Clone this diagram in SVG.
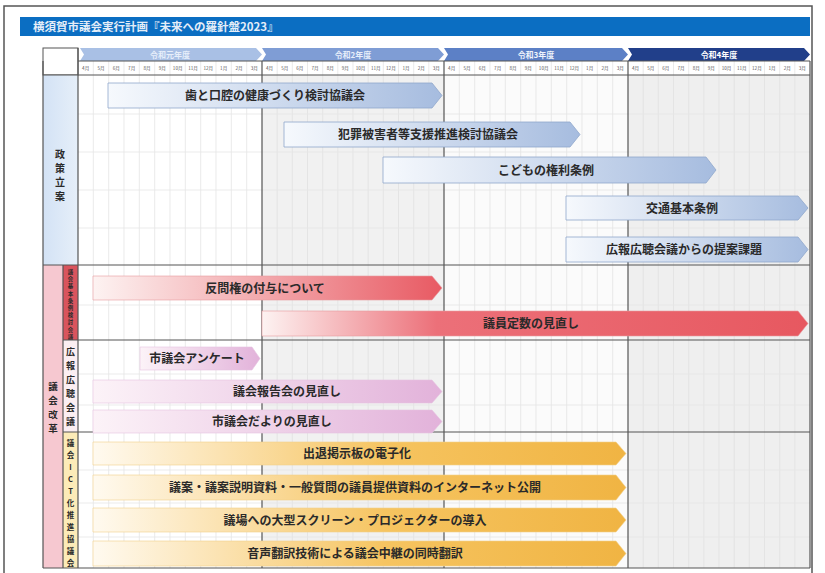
<svg xmlns="http://www.w3.org/2000/svg" width="825" height="573" viewBox="0 0 825 573">
<defs>
<style>
text{font-family:"Noto Sans CJK JP","Noto Sans",sans-serif}
.lbl{font-size:12px;font-weight:700;fill:#2a2a2a;text-anchor:middle}
.mon{font-size:4.6px;fill:#555;text-anchor:middle}
.yr{font-size:8px;font-weight:700;text-anchor:middle}
.vt{font-weight:700;fill:#2a2a2a;text-anchor:middle}
.thick{stroke:#555;stroke-width:1.2;fill:none}
.thin{stroke:#dcdcdc;stroke-width:0.6;fill:none}
.row{stroke:#e6e6e6;stroke-width:0.8;fill:none}
.blue{fill:url(#gBlue);stroke:#8fa7cc;stroke-width:0.8}
.red{stroke:#e79aa0;stroke-width:0.6}
.pink{fill:url(#gPink);stroke:#e6c4e0;stroke-width:0.6}
.yel{fill:url(#gYel);stroke:#f2d08a;stroke-width:0.6}
</style>
<linearGradient id="gBlue" x1="0" y1="0" x2="1" y2="0"><stop offset="0" stop-color="#f6f9fd"/><stop offset="1" stop-color="#a6bcdf"/></linearGradient>
<linearGradient id="gRed1" x1="0" y1="0" x2="1" y2="0"><stop offset="0" stop-color="#fdf3f2"/><stop offset="1" stop-color="#e85a63"/></linearGradient>
<linearGradient id="gRed2" x1="0" y1="0" x2="1" y2="0"><stop offset="0" stop-color="#fdf3f2"/><stop offset="0.32" stop-color="#ec7079"/><stop offset="1" stop-color="#e75860"/></linearGradient>
<linearGradient id="gPink" x1="0" y1="0" x2="1" y2="0"><stop offset="0" stop-color="#fcf3f8"/><stop offset="1" stop-color="#e2b2da"/></linearGradient>
<linearGradient id="gYel" x1="0" y1="0" x2="1" y2="0"><stop offset="0" stop-color="#fffaf0"/><stop offset="0.55" stop-color="#f6c460"/><stop offset="1" stop-color="#f0b443"/></linearGradient>
<linearGradient id="gSec1" x1="0" y1="0" x2="1" y2="0"><stop offset="0" stop-color="#d3e2f5"/><stop offset="1" stop-color="#e6eff9"/></linearGradient>
</defs>

<rect x="0" y="0" width="825" height="573" fill="#ffffff"/>
<rect x="4" y="6" width="808" height="575" fill="none" stroke="#555" stroke-width="1.5"/>

<g id="title">
<rect x="20" y="17" width="790" height="19" fill="#0b6ec2"/>
<text x="33" y="31" font-size="11.5" font-weight="700" fill="#e4edf8">横須賀市議会実行計画『未来への羅針盤2023』</text>
</g>

<!-- backgrounds -->
<rect x="78" y="75" width="184" height="493" fill="#ffffff"/>
<rect x="262" y="75" width="182" height="493" fill="#f1f1f1"/>
<rect x="444" y="75" width="184" height="493" fill="#fbfbfb"/>
<rect x="628" y="75" width="182" height="493" fill="#efefef"/>
<rect x="78" y="61" width="732" height="14" fill="#ffffff"/>

<g id="grid">
<path class="thin" d="M93.3 61V568M108.7 61V568M124 61V568M139.3 61V568M154.7 61V568M170 61V568M185.3 61V568M200.7 61V568M216 61V568M231.3 61V568M246.7 61V568M277.2 61V568M292.3 61V568M307.5 61V568M322.7 61V568M337.8 61V568M353 61V568M368.2 61V568M383.3 61V568M398.5 61V568M413.7 61V568M428.8 61V568M459.3 61V568M474.7 61V568M490 61V568M505.3 61V568M520.7 61V568M536 61V568M551.3 61V568M566.7 61V568M582 61V568M597.3 61V568M612.7 61V568M643.2 61V568M658.3 61V568M673.5 61V568M688.7 61V568M703.8 61V568M719 61V568M734.2 61V568M749.3 61V568M764.5 61V568M779.7 61V568M794.8 61V568"/>
<path class="row" d="M78 114H810M78 152H810M78 190H810M78 228H810M78 305H810M78 374H810M78 405H810M78 470H810M78 503H810M78 537H810"/>
</g>

<g id="header-corner"><rect x="43" y="48" width="35" height="27" fill="#fff" stroke="#555" stroke-width="1"/></g>

<g id="years">
<path d="M80 48H256L262 54.5L256 61H80L84 54.5Z" fill="#a9c0e5"/>
<text class="yr" x="170" y="57.5" fill="#e6eefa">令和元年度</text>
<path d="M262 48H438L444 54.5L438 61H262L266 54.5Z" fill="#7f9dd5"/>
<text class="yr" x="353" y="57.5" fill="#e6eefa">令和2年度</text>
<path d="M444 48H622L628 54.5L622 61H444L448 54.5Z" fill="#5c80c6"/>
<text class="yr" x="536" y="57.5" fill="#eef3fb">令和3年度</text>
<path d="M628 48H804L810 54.5L804 61H628L632 54.5Z" fill="#213f8a"/>
<text class="yr" x="719" y="57.5" fill="#ffffff">令和4年度</text>
</g>

<g id="months">
<text class="mon" y="70"><tspan x="85.7">4月</tspan><tspan x="101">5月</tspan><tspan x="116.3">6月</tspan><tspan x="131.7">7月</tspan><tspan x="147">8月</tspan><tspan x="162.3">9月</tspan><tspan x="177.7">10月</tspan><tspan x="193">11月</tspan><tspan x="208.3">12月</tspan><tspan x="223.7">1月</tspan><tspan x="239">2月</tspan><tspan x="254.3">3月</tspan><tspan x="269.6">4月</tspan><tspan x="284.8">5月</tspan><tspan x="299.9">6月</tspan><tspan x="315.1">7月</tspan><tspan x="330.3">8月</tspan><tspan x="345.4">9月</tspan><tspan x="360.6">10月</tspan><tspan x="375.8">11月</tspan><tspan x="390.9">12月</tspan><tspan x="406.1">1月</tspan><tspan x="421.3">2月</tspan><tspan x="436.4">3月</tspan><tspan x="451.7">4月</tspan><tspan x="467">5月</tspan><tspan x="482.3">6月</tspan><tspan x="497.7">7月</tspan><tspan x="513">8月</tspan><tspan x="528.3">9月</tspan><tspan x="543.7">10月</tspan><tspan x="559">11月</tspan><tspan x="574.3">12月</tspan><tspan x="589.7">1月</tspan><tspan x="605">2月</tspan><tspan x="620.3">3月</tspan><tspan x="635.6">4月</tspan><tspan x="650.8">5月</tspan><tspan x="665.9">6月</tspan><tspan x="681.1">7月</tspan><tspan x="696.3">8月</tspan><tspan x="711.4">9月</tspan><tspan x="726.6">10月</tspan><tspan x="741.8">11月</tspan><tspan x="756.9">12月</tspan><tspan x="772.1">1月</tspan><tspan x="787.3">2月</tspan><tspan x="802.4">3月</tspan></text>
</g>

<!-- section labels -->
<g id="sec-seisaku">
<rect x="43" y="75" width="35" height="190" fill="url(#gSec1)"/>
<text class="vt" font-size="10"><tspan x="60" y="158">政</tspan><tspan x="60" y="172">策</tspan><tspan x="60" y="186">立</tspan><tspan x="60" y="200">案</tspan></text>
</g>
<g id="sec-kaikaku">
<rect x="43" y="265" width="20" height="303" fill="#f6c8d0"/>
<text class="vt" font-size="9.5"><tspan x="53" y="390">議</tspan><tspan x="53" y="404">会</tspan><tspan x="53" y="418">改</tspan><tspan x="53" y="432">革</tspan></text>
</g>
<g id="sub-teisu">
<rect x="63" y="265" width="15" height="75" fill="#d9545d"/>
<text class="vt" font-size="5.4" fill="#5a1a1f"><tspan x="70.5" y="274">議</tspan><tspan x="70.5" y="281.2">会</tspan><tspan x="70.5" y="288.4">基</tspan><tspan x="70.5" y="295.6">本</tspan><tspan x="70.5" y="302.8">条</tspan><tspan x="70.5" y="310">例</tspan><tspan x="70.5" y="317.2">検</tspan><tspan x="70.5" y="324.4">討</tspan><tspan x="70.5" y="331.6">会</tspan><tspan x="70.5" y="338.8">議</tspan></text>
</g>
<g id="sub-koho">
<rect x="63" y="340" width="15" height="92" fill="#fbeef2"/>
<text class="vt" font-size="9"><tspan x="70.5" y="355">広</tspan><tspan x="70.5" y="369">報</tspan><tspan x="70.5" y="383">広</tspan><tspan x="70.5" y="397">聴</tspan><tspan x="70.5" y="411">会</tspan><tspan x="70.5" y="425">議</tspan></text>
</g>
<g id="sub-ict">
<rect x="63" y="432" width="15" height="136" fill="#fcebb8"/>
<text class="vt" font-size="7.5"><tspan x="70.5" y="446">議</tspan><tspan x="70.5" y="458">会</tspan><tspan x="70.5" y="470">I</tspan><tspan x="70.5" y="482">C</tspan><tspan x="70.5" y="494">T</tspan><tspan x="70.5" y="506">化</tspan><tspan x="70.5" y="518">推</tspan><tspan x="70.5" y="530">進</tspan><tspan x="70.5" y="542">協</tspan><tspan x="70.5" y="554">議</tspan><tspan x="70.5" y="566">会</tspan></text>
</g>

<g id="frame">
<path class="thick" d="M43 75H810M43 265H810M63 340H810M63 432H810M43 568H810M43 61V568M78 48V568M262 61V568M444 61V568M628 61V568M810 61V568M63 265V568M78 61H810"/>
</g>

<!-- bars -->
<g id="bar1"><path class="blue" d="M108 83H432L442 95.5L432 108H108Z"/><text class="lbl" x="275" y="100">歯と口腔の健康づくり検討協議会</text></g>
<g id="bar2"><path class="blue" d="M284 122H570L580 134.5L570 147H284Z"/><text class="lbl" x="428" y="139">犯罪被害者等支援推進検討協議会</text></g>
<g id="bar3"><path class="blue" d="M383 157H706L716 170L706 183H383Z"/><text class="lbl" x="546" y="174.5">こどもの権利条例</text></g>
<g id="bar4"><path class="blue" d="M566 196H798L808 208L798 220H566Z"/><text class="lbl" x="682" y="212.5">交通基本条例</text></g>
<g id="bar5"><path class="blue" d="M566 237H798L808 249.5L798 262H566Z"/><text class="lbl" x="684" y="254">広報広聴会議からの提案課題</text></g>

<g id="bar6"><path class="red" fill="url(#gRed1)" d="M93 276H432L442 288L432 300H93Z"/><text class="lbl" x="265" y="292.5">反問権の付与について</text></g>
<g id="bar7"><path class="red" fill="url(#gRed2)" d="M262 311H798L808 323.5L798 336H262Z"/><text class="lbl" x="531" y="328">議員定数の見直し</text></g>

<g id="bar8"><path class="pink" d="M140 347H252L260 358.5L252 370H140Z"/><text class="lbl" x="197" y="362.5" font-size="10">市議会アンケート</text></g>
<g id="bar9"><path class="pink" d="M93 380H432L442 391.5L432 403H93Z"/><text class="lbl" x="287" y="396">議会報告会の見直し</text></g>
<g id="bar10"><path class="pink" d="M93 410H432L442 421.5L432 433H93Z"/><text class="lbl" x="272" y="426">市議会だよりの見直し</text></g>

<g id="bar11"><path class="yel" d="M93 442H616L626 453.5L616 465H93Z"/><text class="lbl" x="357" y="458">出退掲示板の電子化</text></g>
<g id="bar12"><path class="yel" d="M93 475H616L626 487.5L616 500H93Z"/><text class="lbl" x="355" y="492">議案・議案説明資料・一般質問の議員提供資料のインターネット公開</text></g>
<g id="bar13"><path class="yel" d="M93 508H616L626 520L616 532H93Z"/><text class="lbl" x="355" y="524.5">議場への大型スクリーン・プロジェクターの導入</text></g>
<g id="bar14"><path class="yel" d="M93 541H616L626 553.5L616 566H93Z"/><text class="lbl" x="355" y="558">音声翻訳技術による議会中継の同時翻訳</text></g>
</svg>
